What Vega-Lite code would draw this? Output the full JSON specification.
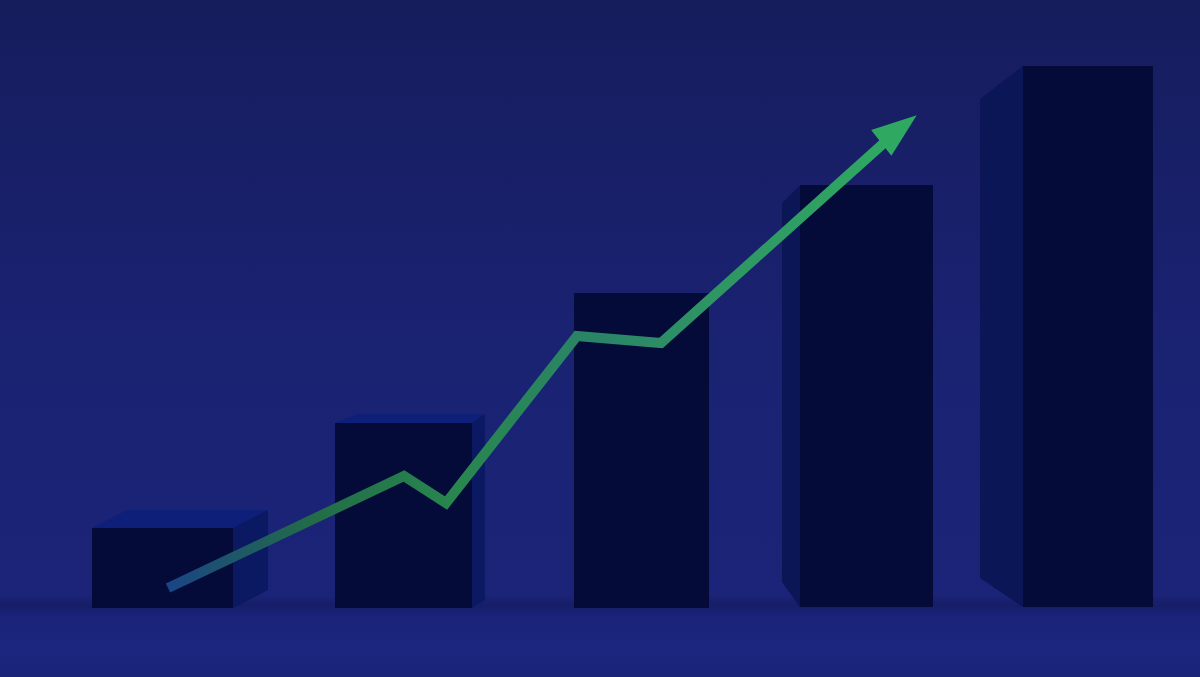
{
  "$schema": "https://vega.github.io/schema/vega-lite/v6.json",
  "width": 1200,
  "height": 677,
  "autosize": {"type": "fit", "contains": "padding"},
  "padding": 0,
  "background": "#19216c",
  "config": {"view": {"stroke": null}},
  "datasets": {
    "bg": [{"x0": 0, "x1": 120, "ytop": 60.8, "ybot": -6.9}],
    "floor": [{"x0": 0, "x1": 120, "ytop": 1.2, "ybot": -6.9}],
    "faces": [
      {"face": "b1-front", "kind": "front", "x": 9.2, "y": 8.0, "y2": 0},
      {"face": "b1-front", "kind": "front", "x": 23.3, "y": 8.0, "y2": 0},
      {"face": "b1-top", "kind": "top", "x": 9.2, "y": 8.0, "y2": 8.0},
      {"face": "b1-top", "kind": "top", "x": 12.7, "y": 9.8, "y2": 8.0},
      {"face": "b1-top", "kind": "top", "x": 23.3, "y": 9.8, "y2": 8.0},
      {"face": "b1-top", "kind": "top", "x": 26.8, "y": 9.8, "y2": 9.8},
      {"face": "b1-side", "kind": "side", "x": 23.3, "y": 8.0, "y2": 0},
      {"face": "b1-side", "kind": "side", "x": 26.8, "y": 9.8, "y2": 1.8},
      {"face": "b2-front", "kind": "front", "x": 33.5, "y": 18.5, "y2": 0},
      {"face": "b2-front", "kind": "front", "x": 47.2, "y": 18.5, "y2": 0},
      {"face": "b2-top", "kind": "top", "x": 33.5, "y": 18.5, "y2": 18.5},
      {"face": "b2-top", "kind": "top", "x": 35.8, "y": 19.4, "y2": 18.5},
      {"face": "b2-top", "kind": "top", "x": 47.2, "y": 19.4, "y2": 18.5},
      {"face": "b2-top", "kind": "top", "x": 48.5, "y": 19.4, "y2": 19.4},
      {"face": "b2-side", "kind": "side", "x": 47.2, "y": 18.5, "y2": 0},
      {"face": "b2-side", "kind": "side", "x": 48.5, "y": 19.4, "y2": 0.8},
      {"face": "b3-front", "kind": "front", "x": 57.4, "y": 31.5, "y2": 0},
      {"face": "b3-front", "kind": "front", "x": 70.9, "y": 31.5, "y2": 0},
      {"face": "b4-side", "kind": "sideL", "x": 78.2, "y": 40.5, "y2": 2.6},
      {"face": "b4-side", "kind": "sideL", "x": 80.0, "y": 42.3, "y2": 0.1},
      {"face": "b4-front", "kind": "front", "x": 80.0, "y": 42.3, "y2": 0.1},
      {"face": "b4-front", "kind": "front", "x": 93.3, "y": 42.3, "y2": 0.1},
      {"face": "b5-side", "kind": "sideL", "x": 98.0, "y": 50.9, "y2": 3.0},
      {"face": "b5-side", "kind": "sideL", "x": 102.3, "y": 54.2, "y2": 0.1},
      {"face": "b5-front", "kind": "front", "x": 102.3, "y": 54.2, "y2": 0.1},
      {"face": "b5-front", "kind": "front", "x": 115.3, "y": 54.2, "y2": 0.1}
    ],
    "trend": [
      {"step": 1, "x": 16.8, "y": 2.0},
      {"step": 2, "x": 40.4, "y": 13.2},
      {"step": 3, "x": 44.6, "y": 10.5},
      {"step": 4, "x": 57.7, "y": 27.2},
      {"step": 5, "x": 66.1, "y": 26.5},
      {"step": 6, "x": 88.5, "y": 46.6}
    ],
    "arrow": [{"x": 89.9, "y": 47.9}]
  },
  "layer": [
    {
      "data": {"name": "bg"},
      "mark": {
        "type": "rect",
        "fill": {"gradient": "linear", "x1": 0, "y1": 0, "x2": 0, "y2": 1,
          "stops": [
            {"offset": 0, "color": "#161d5d"},
            {"offset": 0.5, "color": "#1a2272"},
            {"offset": 1, "color": "#1b2479"}
          ]}
      },
      "encoding": {
        "x": {"field": "x0", "type": "quantitative", "scale": {"domain": [0, 120], "nice": false, "zero": false}, "axis": null},
        "x2": {"field": "x1"},
        "y": {"field": "ytop", "type": "quantitative", "scale": {"domain": [-6.9, 60.8], "nice": false, "zero": false}, "axis": null},
        "y2": {"field": "ybot"}
      }
    },
    {
      "data": {"name": "floor"},
      "mark": {
        "type": "rect",
        "fill": {"gradient": "linear", "x1": 0, "y1": 0, "x2": 0, "y2": 1,
          "stops": [
            {"offset": 0, "color": "#1a2375"},
            {"offset": 0.12, "color": "#161e68"},
            {"offset": 0.25, "color": "#1a2379"},
            {"offset": 0.6, "color": "#1c267e"},
            {"offset": 1, "color": "#1a2478"}
          ]}
      },
      "encoding": {
        "x": {"field": "x0", "type": "quantitative"},
        "x2": {"field": "x1"},
        "y": {"field": "ytop", "type": "quantitative"},
        "y2": {"field": "ybot"}
      }
    },
    {
      "data": {"name": "faces"},
      "mark": {"type": "area", "orient": "vertical", "interpolate": "linear"},
      "encoding": {
        "x": {"field": "x", "type": "quantitative"},
        "y": {"field": "y", "type": "quantitative"},
        "y2": {"field": "y2"},
        "detail": {"field": "face"},
        "color": {"field": "kind", "type": "nominal",
          "scale": {"domain": ["front", "side", "top", "sideL"], "range": ["#050b38", "#0b1862", "#0d1f78", "#0b1656"]},
          "legend": null}
      }
    },
    {
      "data": {"name": "trend"},
      "mark": {
        "type": "line",
        "strokeWidth": 10,
        "strokeJoin": "miter",
        "strokeCap": "butt",
        "stroke": {"gradient": "linear", "x1": 0, "y1": 0, "x2": 1, "y2": 0,
          "stops": [
            {"offset": 0, "color": "#1a4585"},
            {"offset": 0.2, "color": "#226c48"},
            {"offset": 0.4, "color": "#28864e"},
            {"offset": 0.6, "color": "#2a8468"},
            {"offset": 0.75, "color": "#2e9464"},
            {"offset": 1, "color": "#2fa862"}
          ]}
      },
      "encoding": {
        "x": {"field": "x", "type": "quantitative"},
        "y": {"field": "y", "type": "quantitative"},
        "order": {"field": "step"}
      }
    },
    {
      "data": {"name": "arrow"},
      "mark": {
        "type": "point",
        "shape": "M0,-1L0.73,1L-0.73,1Z",
        "size": 2025,
        "angle": 52,
        "filled": true,
        "fill": "#2fa862",
        "opacity": 1,
        "strokeWidth": 0
      },
      "encoding": {
        "x": {"field": "x", "type": "quantitative"},
        "y": {"field": "y", "type": "quantitative"}
      }
    }
  ]
}
